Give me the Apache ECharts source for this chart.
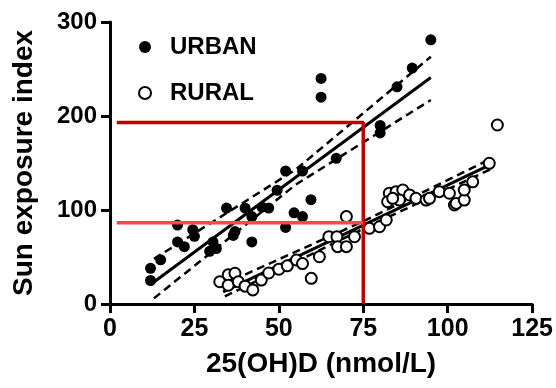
<!DOCTYPE html>
<html>
<head>
<meta charset="utf-8">
<script src="https://cdn.jsdelivr.net/npm/echarts@6.0.0/dist/echarts.min.js"></script>
<style>
  html, body { margin: 0; padding: 0; background: #fff; }
  #chart { width: 556px; height: 388px; }
</style>
</head>
<body>
<div id="chart"></div>
<script>
// Data
const xTicks = [0, 25, 50, 75, 100, 125];
const yTicks = [0, 100, 200, 300];

const urbanPoints = [
    [12, 25], [12, 38], [15, 47], [20, 84], [24.5, 79], [25, 72], [20, 66], [22, 61],
    [29.5, 56], [30.5, 66], [31.5, 59], [34.5, 102], [36.5, 73], [37, 77], [40, 102],
    [42, 93], [42, 66], [45, 103], [47, 102], [49.5, 121], [52, 141.5], [52, 81.5],
    [54.5, 97], [57, 141.5], [57, 93], [59.5, 111], [62.5, 240], [62.5, 220], [67, 155],
    [80, 190], [80, 182], [85, 231], [89.5, 251], [95, 281]
];

const ruralPoints = [
    [32.5, 23.7], [35, 31], [37, 32.7], [35, 20], [38, 23.7], [40, 19], [42.3, 15],
    [44.8, 25.5], [47, 33], [50, 37], [52.5, 40.6], [55.2, 46.8], [57, 43], [59.6, 27.3],
    [62, 50.3], [64.8, 71.6], [67.2, 71.6], [67.4, 61], [70, 61], [72.4, 71.6], [70, 93],
    [76.8, 80.5], [79.8, 82.2], [81.8, 89.4], [82.7, 117.8], [84.7, 119.5], [86.7, 121.3],
    [88.7, 116], [82.2, 108.8], [85.7, 110.6], [83.7, 112.4], [90.6, 112.4], [93.6, 110.6],
    [94.6, 112.4], [97.5, 119.5], [100.5, 117.8], [102, 105.3], [102.5, 107], [104.9, 110.6],
    [104.9, 121.3], [107.4, 130], [112.3, 149.7], [114.7, 190.4]
];

// regression lines and 95% bands
const urbanFit = [[13, 23.4], [95, 241]];
const urbanUpper = [[13, 48], [55, 143], [95, 263]];
const urbanLower = [[13, 6], [55, 127], [95, 217]];
const ruralFit = [[33.5, 13], [112.5, 148]];
const ruralUpper = [[33, 20], [75, 88], [112, 153]];
const ruralLower = [[34, 8], [75, 80], [112.5, 143]];

// red guide lines
const redHigh = [[2, 193], [75, 193], [75, 0]];
const redLow = [[2, 86.5], [75, 86.5]];

const FONT = 'Liberation Sans';
const chart = echarts.init(document.getElementById('chart'), null, { renderer: 'canvas' });

function fitLine(data, dashed) {
    return {
        type: 'line', data: data, symbol: 'none', silent: true, z: 3,
        lineStyle: { color: '#000', width: dashed ? 2.5 : 3, type: dashed ? [8, 5] : 'solid' }
    };
}

chart.setOption({
    animation: false,
    textStyle: { fontFamily: FONT },
    grid: { left: 110, right: 23, top: 22, bottom: 84 },
    legend: {
        orient: 'vertical', left: 133, top: 30, itemGap: 22,
        itemWidth: 12, itemHeight: 12,
        data: [
            { name: 'URBAN', icon: 'circle' },
            { name: 'RURAL', icon: 'emptyCircle' }
        ],
        textStyle: { fontFamily: FONT, fontSize: 24, fontWeight: 'bold', color: '#000', padding: [0, 0, 0, 14] }
    },
    xAxis: {
        type: 'value', min: xTicks[0], max: xTicks[xTicks.length - 1], interval: 25,
        name: '25(OH)D (nmol/L)', nameLocation: 'middle', nameGap: 46,
        nameTextStyle: { fontFamily: FONT, fontSize: 28, fontWeight: 'bold', color: '#000' },
        axisLine: { onZero: false, lineStyle: { color: '#000', width: 3 } },
        axisTick: { length: 9, lineStyle: { color: '#000', width: 3 } },
        axisLabel: { fontFamily: FONT, fontSize: 25, fontWeight: 'bold', color: '#000', margin: 13 },
        splitLine: { show: false }
    },
    yAxis: {
        type: 'value', min: yTicks[0], max: yTicks[yTicks.length - 1], interval: 100,
        name: 'Sun exposure index', nameLocation: 'middle', nameGap: 72,
        nameTextStyle: { fontFamily: FONT, fontSize: 28, fontWeight: 'bold', color: '#000' },
        axisLine: { show: true, lineStyle: { color: '#000', width: 3 } },
        axisTick: { show: true, length: 9, lineStyle: { color: '#000', width: 3 } },
        axisLabel: { fontFamily: FONT, fontSize: 24, fontWeight: 'bold', color: '#000', margin: 13 },
        splitLine: { show: false }
    },
    series: [
        {
            name: 'URBAN', type: 'scatter', data: urbanPoints, symbol: 'circle', symbolSize: 11, z: 4,
            itemStyle: { color: '#000', opacity: 1 }
        },
        {
            name: 'RURAL', type: 'scatter', data: ruralPoints, symbol: 'emptyCircle', symbolSize: 11, z: 4,
            itemStyle: { color: '#000', borderColor: '#000', borderWidth: 2.8, opacity: 1 }
        },
        fitLine(urbanFit, false),
        fitLine(urbanUpper, true),
        fitLine(urbanLower, true),
        fitLine(ruralFit, false),
        fitLine(ruralUpper, true),
        fitLine(ruralLower, true),
        {
            type: 'line', data: redHigh, symbol: 'none', silent: true, z: 10,
            lineStyle: { color: '#c00000', width: 3.5 }
        },
        {
            type: 'line', data: redLow, symbol: 'none', silent: true, z: 10,
            lineStyle: { color: '#f04a4a', width: 3.5 }
        }
    ]
});
</script>
</body>
</html>
